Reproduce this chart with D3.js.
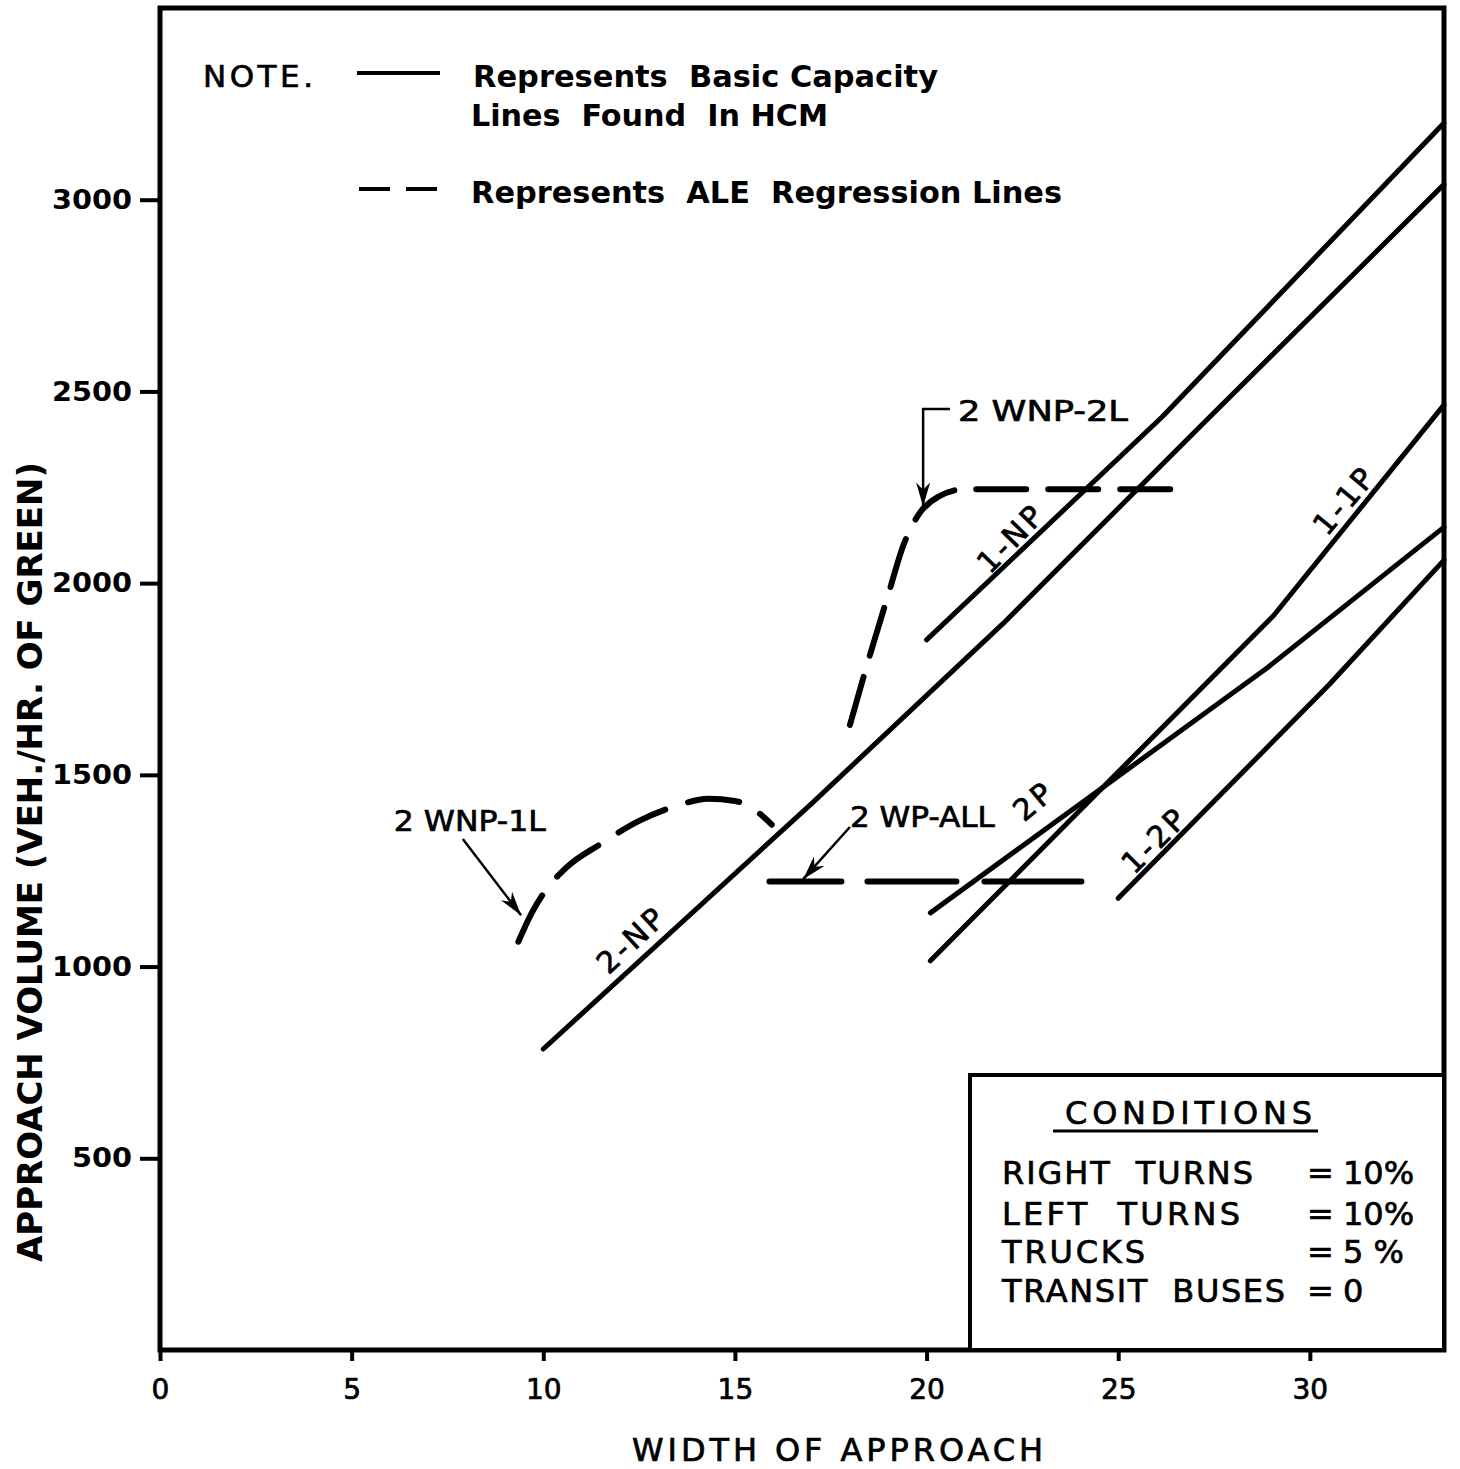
<!DOCTYPE html>
<html>
<head>
<meta charset="utf-8">
<script src="https://cdn.jsdelivr.net/npm/d3@7"></script>
<style>
  body { margin: 0; background: #fff; }
  svg { display: block; }
  text { fill: #000; }
</style>
</head>
<body>
<div id="chart"></div>
<script>
// tick values
const xTicks = [0, 5, 10, 15, 20, 25, 30];
const yTicks = [500, 1000, 1500, 2000, 2500, 3000];

// HCM basic capacity lines (solid)
const np2Width = [10, 17, 22, 27, 33.5];
const np2Vol = [785, 1425, 1895, 2395, 3040];
const np1Width = [20, 26.15, 33.5];
const np1Vol = [1852, 2434, 3200];
const p11Width = [20.1, 29.05, 33.5];
const p11Vol = [1015, 1915, 2465];
const p2Width = [20.1, 28.9, 33.5];
const p2Vol = [1140, 1780, 2146];
const p12Width = [25, 30.5, 33.5];
const p12Vol = [1178, 1735, 2060];

// ALE regression lines (dashed)
const wnp1LWidth = [9.35, 9.7, 10.0, 10.6, 11.5, 12.5, 13.5, 14.3, 15.0, 15.5, 15.96];
const wnp1LVol = [1065, 1140, 1190, 1258, 1320, 1380, 1420, 1438, 1432, 1410, 1370];
const wnp2LWidth = [18, 18.5, 19, 19.4, 19.8, 20.3, 21, 26.6];
const wnp2LVol = [1630, 1805, 1970, 2100, 2180, 2225, 2245, 2245];
const wpAllWidth = [15.9, 24.05];
const wpAllVol = [1222, 1222];

const conditionNames = ["RIGHT  TURNS", "LEFT  TURNS", "TRUCKS", "TRANSIT  BUSES"];
const conditionValues = ["10%", "10%", "5 %", "0"];

const margin = { top: 8, right: 16, bottom: 119, left: 160 };
const width = 1460 - margin.left - margin.right;
const height = 1469 - margin.top - margin.bottom;

const FONT = "'DejaVu Sans', 'Liberation Sans', sans-serif";
const NARROW = "'DejaVu Sans Condensed', 'Liberation Sans Narrow', 'DejaVu Sans', sans-serif";

const svg = d3.select("#chart")
    .append("svg")
    .attr("width", 1460)
    .attr("height", 1469);

const g = svg.append("g")
    .attr("transform", `translate(${margin.left}, ${margin.top})`);

const x = d3.scaleLinear().domain([0, 33.5]).range([0, width]);
const y = d3.scaleLinear().domain([0, 3500]).range([height, 0]);

const zip = (xs, ys) => xs.map((d, i) => [d, ys[i]]);

const line = d3.line()
    .x(d => x(d[0]))
    .y(d => y(d[1]));
const curve = d3.line()
    .x(d => x(d[0]))
    .y(d => y(d[1]))
    .curve(d3.curveMonotoneX);

// lettering is a bit heavier than the plain font
const ink = sel => sel.attr("stroke", "#000").attr("stroke-width", 0.7);

// x axis
g.append("g")
    .attr("class", "xAxis")
    .attr("transform", `translate(0, ${height})`)
    .call(d3.axisBottom(x).tickValues(xTicks).tickSize(11).tickPadding(18))
    .call(a => a.select(".domain").remove())
    .call(a => a.selectAll("line").attr("stroke", "#000").attr("stroke-width", 4))
    .call(a => a.selectAll("text")
        .attr("font-family", FONT)
        .attr("font-size", 28)
        .attr("fill", "#000")
        .call(ink));

// y axis
g.append("g")
    .attr("class", "yAxis")
    .call(d3.axisLeft(y).tickValues(yTicks).tickFormat(d3.format("d")).tickSize(20).tickPadding(8))
    .call(a => a.select(".domain").remove())
    .call(a => a.selectAll("line").attr("stroke", "#000").attr("stroke-width", 4))
    .call(a => a.selectAll("text")
        .attr("font-family", FONT)
        .attr("font-weight", "bold")
        .attr("font-size", 27)
        .attr("fill", "#000")
        .attr("textLength", d => String(d).length * 20)
        .attr("lengthAdjust", "spacingAndGlyphs"));

// axis titles
svg.append("text")
    .attr("x", 632).attr("y", 1461)
    .attr("font-family", FONT)
    .attr("font-size", 32)
    .attr("textLength", 411)
    .attr("lengthAdjust", "spacing")
    .call(ink)
    .text("WIDTH OF APPROACH");

svg.append("text")
    .attr("transform", "translate(42, 1262) rotate(-90)")
    .attr("font-family", NARROW)
    .attr("font-weight", "bold")
    .attr("font-size", 33)
    .attr("textLength", 800)
    .attr("lengthAdjust", "spacingAndGlyphs")
    .text("APPROACH VOLUME (VEH./HR. OF GREEN)");

// solid capacity lines
const solid = [
    zip(np2Width, np2Vol),
    zip(np1Width, np1Vol),
    zip(p11Width, p11Vol),
    zip(p2Width, p2Vol),
    zip(p12Width, p12Vol)
];
g.selectAll(".hcm")
    .data(solid)
    .enter().append("path")
    .attr("class", "hcm")
    .attr("d", line)
    .attr("fill", "none")
    .attr("stroke", "#000")
    .attr("stroke-width", 5)
    .attr("stroke-linecap", "round")
    .attr("stroke-linejoin", "round");

// dashed regression lines
const dashed = [
    { pts: zip(wnp1LWidth, wnp1LVol), dash: "52,24" },
    { pts: zip(wnp2LWidth, wnp2LVol), dash: "50,22" },
    { pts: zip(wpAllWidth, wpAllVol), dash: "72,26,89,28,97,30" }
];
g.selectAll(".ale")
    .data(dashed)
    .enter().append("path")
    .attr("class", "ale")
    .attr("d", d => curve(d.pts))
    .attr("fill", "none")
    .attr("stroke", "#000")
    .attr("stroke-width", 6)
    .attr("stroke-linecap", "round")
    .attr("stroke-dasharray", d => d.dash);

// line labels
const lineLabels = [
    { t: "2-NP", w: 12.3, v: 1070, a: -43 },
    { t: "1-NP", w: 22.2, v: 2117, a: -46 },
    { t: "1-1P", w: 30.9, v: 2216, a: -50 },
    { t: "2P", w: 22.8, v: 1432, a: -40 },
    { t: "1-2P", w: 25.95, v: 1330, a: -45 }
];
g.selectAll(".lineLabel")
    .data(lineLabels)
    .enter().append("text")
    .attr("class", "lineLabel")
    .attr("transform", d => `translate(${x(d.w)}, ${y(d.v)}) rotate(${d.a})`)
    .attr("text-anchor", "middle")
    .attr("dy", "0.35em")
    .attr("font-family", FONT)
    .attr("font-size", 30)
    .attr("letter-spacing", 3)
    .call(ink)
    .text(d => d.t);

// annotations with arrows
const notes = [
    { t: "2 WNP-1L", w: 6.1, v: 1354, len: 152, path: [[7.9, 1333], [9.42, 1134]] },
    { t: "2 WNP-2L", w: 20.82, v: 2423, len: 170, path: [[20.61, 2454], [19.91, 2454], [19.91, 2200]] },
    { t: "2 WP-ALL", w: 18.0, v: 1364, len: 145, path: [[18.0, 1364], [16.78, 1228]] }
];
notes.forEach(n => {
    g.append("text")
        .attr("x", x(n.w)).attr("y", y(n.v))
        .attr("font-family", FONT)
        .attr("font-size", 29)
        .attr("textLength", n.len)
        .attr("lengthAdjust", "spacingAndGlyphs")
        .call(ink)
        .text(n.t);

    const px = n.path.map(p => [x(p[0]), y(p[1])]);
    g.append("path")
        .attr("d", d3.line()(px))
        .attr("fill", "none")
        .attr("stroke", "#000")
        .attr("stroke-width", 2.5);

    const tip = px[px.length - 1];
    const prev = px[px.length - 2];
    const ang = Math.atan2(tip[1] - prev[1], tip[0] - prev[0]);
    const L = 24, W = 7;
    const bx = tip[0] - L * Math.cos(ang), by = tip[1] - L * Math.sin(ang);
    const head = [
        tip,
        [bx + W * Math.sin(ang), by - W * Math.cos(ang)],
        [tip[0] - 0.7 * L * Math.cos(ang), tip[1] - 0.7 * L * Math.sin(ang)],
        [bx - W * Math.sin(ang), by + W * Math.cos(ang)]
    ];
    g.append("path")
        .attr("d", d3.line()(head) + "Z")
        .attr("fill", "#000");
});

// legend note
svg.append("text")
    .attr("x", 203).attr("y", 87)
    .attr("font-family", FONT)
    .attr("font-size", 31)
    .attr("textLength", 110)
    .attr("lengthAdjust", "spacing")
    .call(ink)
    .text("NOTE.");

svg.append("line")
    .attr("x1", 357).attr("x2", 440)
    .attr("y1", 73).attr("y2", 73)
    .attr("stroke", "#000").attr("stroke-width", 4);

svg.append("line")
    .attr("x1", 359).attr("x2", 438)
    .attr("y1", 189).attr("y2", 189)
    .attr("stroke", "#000").attr("stroke-width", 4)
    .attr("stroke-dasharray", "31,16");

const legendLines = [
    { t: "Represents  Basic Capacity", x: 473, y: 87, len: 465 },
    { t: "Lines  Found  In HCM", x: 471, y: 126, len: 357 },
    { t: "Represents  ALE  Regression Lines", x: 471, y: 203, len: 591 }
];
svg.selectAll(".legendText")
    .data(legendLines)
    .enter().append("text")
    .attr("class", "legendText")
    .attr("x", d => d.x).attr("y", d => d.y)
    .attr("font-family", NARROW)
    .attr("font-weight", "bold")
    .attr("font-size", 31)
    .attr("xml:space", "preserve")
    .attr("textLength", d => d.len)
    .attr("lengthAdjust", "spacingAndGlyphs")
    .text(d => d.t);

// conditions box
svg.append("rect")
    .attr("x", 970).attr("y", 1075)
    .attr("width", 1444 - 970).attr("height", 1350 - 1075)
    .attr("fill", "#fff")
    .attr("stroke", "#000")
    .attr("stroke-width", 4);

svg.append("text")
    .attr("x", 1065).attr("y", 1124)
    .attr("font-family", FONT)
    .attr("font-size", 32)
    .attr("textLength", 247)
    .attr("lengthAdjust", "spacing")
    .call(ink)
    .text("CONDITIONS");

svg.append("line")
    .attr("x1", 1053).attr("x2", 1318)
    .attr("y1", 1131).attr("y2", 1131)
    .attr("stroke", "#000").attr("stroke-width", 3);

const condBase = [1184, 1225, 1263, 1302];
const condLen = [251, 238, 143, 283];
svg.selectAll(".condName")
    .data(conditionNames)
    .enter().append("text")
    .attr("class", "condName")
    .attr("x", 1002)
    .attr("y", (d, i) => condBase[i])
    .attr("font-family", FONT)
    .attr("font-size", 32)
    .attr("xml:space", "preserve")
    .attr("textLength", (d, i) => condLen[i])
    .attr("lengthAdjust", "spacing")
    .call(ink)
    .text(d => d);

svg.selectAll(".condEq")
    .data(conditionValues)
    .enter().append("text")
    .attr("class", "condEq")
    .attr("x", 1307)
    .attr("y", (d, i) => condBase[i])
    .attr("font-family", FONT)
    .attr("font-size", 32)
    .call(ink)
    .text("=");

svg.selectAll(".condVal")
    .data(conditionValues)
    .enter().append("text")
    .attr("class", "condVal")
    .attr("x", 1343)
    .attr("y", (d, i) => condBase[i])
    .attr("font-family", FONT)
    .attr("font-size", 32)
    .attr("xml:space", "preserve")
    .call(ink)
    .text(d => d);

// frame on top
g.append("rect")
    .attr("x", 0).attr("y", 0)
    .attr("width", width).attr("height", height)
    .attr("fill", "none")
    .attr("stroke", "#000")
    .attr("stroke-width", 5);
</script>
</body>
</html>
